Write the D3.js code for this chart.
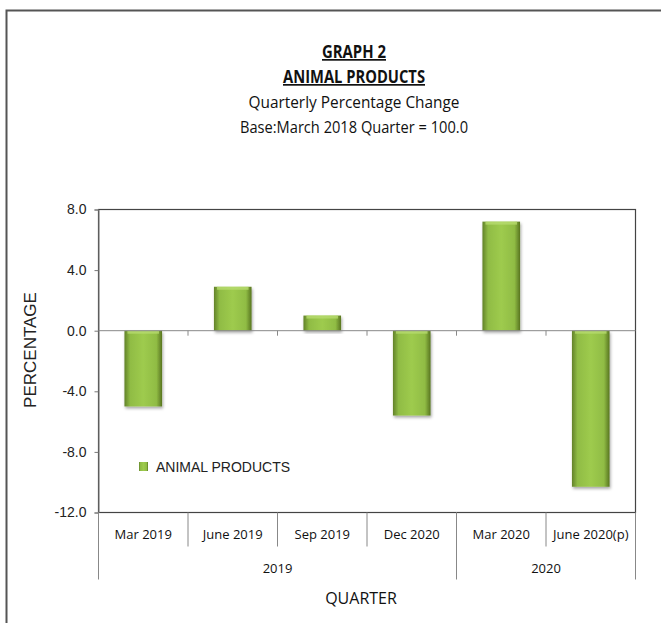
<!DOCTYPE html>
<html>
<head>
<meta charset="utf-8">
<script src="https://cdn.jsdelivr.net/npm/d3@7"></script>
<style>
  body { margin: 0; background: #fff; }
  svg { display: block; }
</style>
</head>
<body>
<svg id="chart" width="661" height="623"></svg>
<script>
const width = 661;
const height = 623;

// data
const quarters = ["Mar 2019", "June 2019", "Sep 2019", "Dec 2020", "Mar 2020", "June 2020(p)"];
const changes = [-5.0, 2.9, 1.0, -5.6, 7.2, -10.3];
const years = ["2019", "2020"];
const yearSpans = [4, 2];
const yTicks = [8, 4, 0, -4, -8, -12];
const titles = ["GRAPH 2", "ANIMAL PRODUCTS", "Quarterly Percentage Change", "Base:March 2018 Quarter = 100.0"];

const narrow = "'Open Sans', sans-serif";
const arial = "'Liberation Sans', Arial, sans-serif";

const svg = d3.select("#chart");
const margin = { top: 209.5, right: 25.5, bottom: 110.5, left: 98.5 };
const innerW = width - margin.left - margin.right;
const innerH = height - margin.top - margin.bottom;

const defs = svg.append("defs");
const grad = defs.append("linearGradient").attr("id", "barGrad")
  .attr("x1", 0).attr("x2", 1).attr("y1", 0).attr("y2", 0);
grad.append("stop").attr("offset", "0%").attr("stop-color", "#62822a");
grad.append("stop").attr("offset", "15%").attr("stop-color", "#90bc44");
grad.append("stop").attr("offset", "50%").attr("stop-color", "#9ecb4e");
grad.append("stop").attr("offset", "85%").attr("stop-color", "#90bc44");
grad.append("stop").attr("offset", "100%").attr("stop-color", "#587520");

const shadow = defs.append("filter").attr("id", "shadow")
  .attr("x", "-20%").attr("y", "-20%").attr("width", "140%").attr("height", "140%");
shadow.append("feDropShadow").attr("dx", 1).attr("dy", 2).attr("stdDeviation", 1.5)
  .attr("flood-color", "#000").attr("flood-opacity", 0.35);

// outer frame
svg.append("path")
  .attr("d", `M6.5,${height} V10.5 H${width}`)
  .attr("fill", "none").attr("stroke", "#555").attr("stroke-width", 2);

// titles (Calibri-like, so squeeze to the reference widths)
const titleY = [58, 83, 108, 133];
const titleW = [64, 142, 211, 228];
titles.forEach((t, i) => {
  svg.append("text")
    .attr("x", 354)
    .attr("y", titleY[i])
    .attr("text-anchor", "middle")
    .attr("textLength", titleW[i])
    .attr("lengthAdjust", "spacingAndGlyphs")
    .attr("font-family", narrow)
    .attr("font-size", 17)
    .attr("font-weight", i < 2 ? "bold" : "normal")
    .attr("text-decoration", i < 2 ? "underline" : "none")
    .attr("fill", "#111")
    .text(t);
});

const g = svg.append("g").attr("transform", `translate(${margin.left},${margin.top})`);

const x = d3.scaleBand().domain(quarters).range([0, innerW]).padding(0);
const y = d3.scaleLinear().domain([-12, 8]).range([innerH, 0]);

// plot frame
g.append("rect")
  .attr("width", innerW).attr("height", innerH)
  .attr("fill", "none").attr("stroke", "#444").attr("stroke-width", 1.2);

// y axis (plain hyphen for negatives, like the original)
const yAxis = g.append("g")
  .call(d3.axisLeft(y).tickValues(yTicks).tickSize(4).tickPadding(8)
    .tickFormat(d => d3.format(".1f")(d).replace("\u2212", "-")));
yAxis.select(".domain").attr("stroke", "#777");
yAxis.selectAll(".tick line").attr("stroke", "#777");
yAxis.selectAll(".tick text")
  .style("font-family", arial)
  .style("font-size", "14px")
  .attr("fill", "#222");

// bars
const barW = x.bandwidth() * 0.42;
const bars = g.append("g").selectAll("g")
  .data(quarters)
  .join("g")
  .attr("filter", "url(#shadow)");

bars.append("rect")
  .attr("x", d => x(d) + (x.bandwidth() - barW) / 2)
  .attr("y", (d, i) => y(Math.max(0, changes[i])))
  .attr("width", barW)
  .attr("height", (d, i) => Math.abs(y(changes[i]) - y(0)))
  .attr("fill", "url(#barGrad)");

// light bevel on the top edge of each bar
bars.append("rect")
  .attr("x", d => x(d) + (x.bandwidth() - barW) / 2 + 3)
  .attr("y", (d, i) => y(Math.max(0, changes[i])))
  .attr("width", barW - 6)
  .attr("height", 3)
  .attr("fill", "#b6db6e")
  .attr("opacity", 0.8);

// zero line with small ticks between categories
g.append("line")
  .attr("x1", 0).attr("x2", innerW)
  .attr("y1", y(0)).attr("y2", y(0))
  .attr("stroke", "#888").attr("stroke-width", 1);
g.append("g").selectAll("line")
  .data(quarters.slice(1))
  .join("line")
  .attr("x1", d => x(d)).attr("x2", d => x(d))
  .attr("y1", y(0)).attr("y2", y(0) + 5)
  .attr("stroke", "#888");

// category axis below the plot
const xAxis = g.append("g").attr("transform", `translate(0,${innerH})`);
xAxis.selectAll("line.sep")
  .data(quarters.slice(1))
  .join("line")
  .attr("x1", d => x(d)).attr("x2", d => x(d))
  .attr("y1", 0).attr("y2", 34)
  .attr("stroke", "#888");
xAxis.selectAll("text.cat")
  .data(quarters)
  .join("text")
  .attr("x", d => x(d) + x.bandwidth() / 2)
  .attr("y", 26)
  .attr("text-anchor", "middle")
  .attr("font-family", narrow)
  .attr("font-size", 13)
  .attr("fill", "#111")
  .text(d => d);

// year groups
let start = 0;
const yearBounds = [0];
yearSpans.forEach(n => { start += n; yearBounds.push(start); });
xAxis.selectAll("line.year")
  .data(yearBounds)
  .join("line")
  .attr("x1", i => i < quarters.length ? x(quarters[i]) : innerW)
  .attr("x2", i => i < quarters.length ? x(quarters[i]) : innerW)
  .attr("y1", 0).attr("y2", 67)
  .attr("stroke", "#888");
xAxis.selectAll("text.year")
  .data(years)
  .join("text")
  .attr("x", (d, i) => {
    const a = x(quarters[yearBounds[i]]);
    const b = yearBounds[i + 1] < quarters.length ? x(quarters[yearBounds[i + 1]]) : innerW;
    return (a + b) / 2;
  })
  .attr("y", 60)
  .attr("text-anchor", "middle")
  .attr("font-family", narrow)
  .attr("font-size", 13)
  .attr("fill", "#111")
  .text(d => d);

// axis titles
svg.append("text")
  .attr("x", 361)
  .attr("y", 604)
  .attr("text-anchor", "middle")
  .attr("font-family", narrow)
  .attr("font-size", 16)
  .attr("fill", "#111")
  .text("QUARTER");

svg.append("text")
  .attr("transform", "translate(36,350) rotate(-90)")
  .attr("text-anchor", "middle")
  .attr("font-family", arial)
  .attr("font-size", 17)
  .attr("fill", "#222")
  .text("PERCENTAGE");

// legend
const legend = svg.append("g").attr("transform", "translate(139,462)");
legend.append("rect")
  .attr("width", 9).attr("height", 9)
  .attr("fill", "url(#barGrad)");
legend.append("text")
  .attr("x", 17).attr("y", 10)
  .attr("font-family", arial)
  .attr("font-size", 14)
  .attr("fill", "#222")
  .text("ANIMAL PRODUCTS");
</script>
</body>
</html>
